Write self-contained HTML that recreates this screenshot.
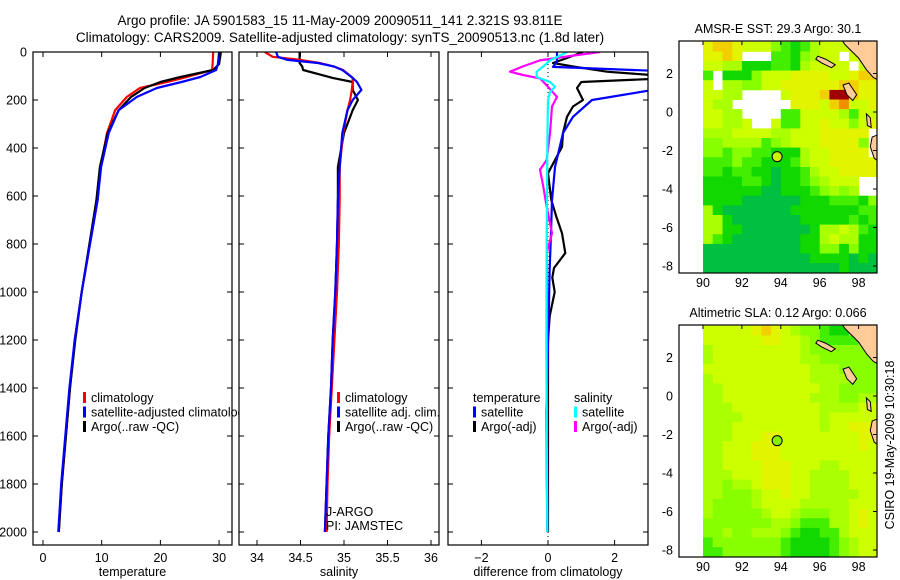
<!DOCTYPE html>
<html><head><meta charset="utf-8"><style>
html,body{margin:0;padding:0;background:#fff;}
svg{display:block;font-family:"Liberation Sans",sans-serif;}
</style></head><body>
<svg id="fig" width="900" height="580" viewBox="0 0 900 580">
<defs>
<clipPath id="c1"><rect x="33" y="52" width="199" height="493"/></clipPath>
<clipPath id="c2"><rect x="239" y="52" width="200" height="493"/></clipPath>
<clipPath id="c3"><rect x="448" y="52" width="200" height="493"/></clipPath>
<clipPath id="m1"><rect x="679" y="41" width="198" height="232"/></clipPath>
<clipPath id="m2"><rect x="679" y="325" width="198" height="232"/></clipPath>
</defs>
<text x="340" y="25" font-size="13.5" text-anchor="middle">Argo profile: JA 5901583_15 11-May-2009 20090511_141 2.321S 93.811E</text>
<text x="340" y="42" font-size="13.5" text-anchor="middle">Climatology: CARS2009. Satellite-adjusted climatology: synTS_20090513.nc (1.8d later)</text>
<g id="g"></g>
</svg>
<script>
// ---- profile data ----
const depthT=[0,50,75,104,125,150,187,242,338,479,617,800,1000,1200,1400,1600,1800,2000];
const tClim=[29.0,28.9,28.8,24.5,21.1,16.5,14.3,12.3,10.9,9.8,9.3,8.0,6.6,5.4,4.6,3.9,3.2,2.7];
const tSat=[30.0,29.8,29.5,26.8,23.6,19.4,16.0,12.9,11.2,9.9,9.3,8.0,6.6,5.4,4.5,3.8,3.1,2.6];
const tArgo=[30.3,30.0,29.0,23.4,20.0,17.3,15.0,12.9,11.0,9.7,9.1,7.9,6.6,5.5,4.6,3.9,3.2,2.7];
const depthS=[0,20,33,46,60,75,108,125,158,200,242,338,479,617,800,1000,1200,1400,1600,1800,2000];
const sClim=[34.09,34.18,34.5,34.72,34.88,34.99,35.10,35.10,35.09,35.07,35.04,34.99,34.95,34.95,34.94,34.92,34.89,34.86,34.83,34.81,34.80];
const sSat=[34.22,34.24,34.35,34.70,34.88,34.98,35.10,35.15,35.20,35.10,35.04,34.98,34.95,34.93,34.92,34.90,34.87,34.85,34.82,34.80,34.78];
const sArgo=[34.49,34.49,34.49,34.49,34.52,34.53,34.87,35.10,35.10,35.16,35.10,35.00,34.93,34.93,34.92,34.90,34.87,34.85,34.82,34.80,34.78];
const depthDTSat=[0,40,62,80,104,150,200,270,338,479,617,755,900,1100,1500,2000];
const dTSat=[0.27,0.27,0.15,3.5,4.0,3.5,1.32,0.75,0.45,0.21,0.12,0.09,0.05,0.02,-0.05,-0.02];
const depthDTArgo=[0,25,46,60,82,100,110,125,150,200,227,270,338,395,450,505,617,686,755,838,900,940,1000,1100,1200,1500,2000];
const dTArgo=[1.05,0.57,0.15,0.75,1.77,3.5,3.5,1.0,0.87,1.05,0.75,0.57,0.45,0.42,0.21,0.0,0.1,0.25,0.42,0.52,0.18,0.13,0.2,0.05,0.0,0.0,0.0];
const depthDSArgo=[0,15,35,60,82,96,110,145,187,227,338,450,490,561,645,755,838,1000,1500,2000];
const dSArgo=[1.56,0.75,-0.24,-0.75,-1.14,-0.75,-0.24,0,0.27,0.12,0.06,-0.04,-0.24,-0.14,-0.04,0.12,-0.04,-0.03,-0.03,-0.02];
const depthDSSat=[0,15,35,60,82,104,125,145,167,200,400,800,1200,1600,2000];
const dSSat=[0.57,0.36,0.06,-0.14,-0.34,-0.34,0.06,0.21,0.06,0,-0.02,-0.04,-0.05,-0.04,-0.02];
const depthTicks=[0,200,400,600,800,1000,1200,1400,1600,1800,2000];
const tTicks=[0,10,20,30];
const sTicks=[34,34.5,35,35.5,36];
const dTicks=[-2,0,2];
const lonTicks=[90,92,94,96,98];
const latTicks=[2,0,-2,-4,-6,-8];
// ---- map data (0.5 deg cells, rows from 3.65N southward, cols from 90E) ----
const sstGrid=[
"677655532124555LLL","6676xxx2213455x5LL","554411122145555x5L","2x1113555666655677",
"5x4433556666667766","5544xxxx5666799766","544xxxxxx666578556","5544xxxx2255554255",
"55445xx52255655356","44455554455566666x","33444423455566663x","33233221114556666x",
"222322111245566666","221221101124556666","1111221011234555xx","1111110011123434xx",
"111100000011122213","410000000111111122","441000000011111212","441100000001445421",
"421000000011454411","000000000011331311","000000000001111010","000000000000001000"];
const slaGrid=[
"555556765433211LLL","5555556655432222LL","45555555554333333L","455555555544333333",
"555555555554443333","455555555554444333","445555555555443333","445555555554443344",
"444555555555444455","444455555555455555","444555555555455666","444555665555555566",
"445556665555555565","445556665555555555","445555666555445555","444555666554444555",
"443445666554444555","443334556554444455","433334555544444555","433333455433344565",
"333333344322244565","334334443211224555","233333332111123455","223333332111123455"];
const palette=["#00c040","#10d800","#44ee00","#88ff00","#aaff00","#ccff00","#e2f400","#f2d000","#f09000","#a00000"];
const argoLon=93.811, argoLat=-2.321;

const NS="http://www.w3.org/2000/svg";
const G=document.getElementById('g');
function el(tag,attrs,parent,txt){const e=document.createElementNS(NS,tag);for(const k in attrs)e.setAttribute(k,attrs[k]);if(txt!==undefined)e.textContent=txt;(parent||G).appendChild(e);return e;}
const yD=d=>52+0.24*d;

function panel(x0,x1,xs,xticks,fmt,name,title,clip){
  const p=el('g',{});
  
  
  el('rect',{x:x0,y:52,width:x1-x0,height:493,fill:'#fff'},p);
  const lines=el('g',{'clip-path':'url(#'+clip+')'},p);
  el('rect',{x:x0,y:52,width:x1-x0,height:493,fill:'none',stroke:'#000','stroke-width':1.2},p);
  depthTicks.forEach(d=>{const y=yD(d);
    el('line',{x1:x0,x2:x0+5,y1:y,y2:y,stroke:'#000'},p);
    el('line',{x1:x1-5,x2:x1,y1:y,y2:y,stroke:'#000'},p);});
  xticks.forEach(v=>{const x=xs(v);
    el('line',{x1:x,x2:x,y1:52,y2:57,stroke:'#000'},p);
    el('line',{x1:x,x2:x,y1:540,y2:545,stroke:'#000'},p);
    const t=el('text',{x:x,y:562,'font-size':12.5,'text-anchor':'middle'},p,fmt(v));
    
    });
  const tt=el('text',{x:(x0+x1)/2,y:576,'font-size':12.5,'text-anchor':'middle'},p,title);
  
  
  return lines;
}
function line(parent,xs,depths,vals,color,name,w){
  const pts=depths.map((d,i)=>xs(vals[i]).toFixed(1)+','+yD(d).toFixed(1)).join(' ');
  const l=el('polyline',{points:pts,fill:'none',stroke:color,'stroke-width':w||2.2,'stroke-linejoin':'round'},parent);
  
  
}
function legend(items,x,y0){
  items.forEach((it,i)=>{const y=y0+i*14.5;
    if(it.c){const b=el('rect',{x:x,y:y-10,width:3,height:11,fill:it.c});
      
      }
    const t=el('text',{x:x+(it.c?8:0),y:y,'font-size':12.5},G,it.t);
    
    });
}
// panel 1
const xT=t=>43+5.87*t;
const L1=panel(33,232,xT,tTicks,v=>String(v),'temperature-panel','temperature','c1');
depthTicks.forEach(d=>{const t=el('text',{x:27,y:yD(d)+4.5,'font-size':12.5,'text-anchor':'end'},G,String(d));
  
  });
line(L1,xT,depthT,tClim,'#f00','temp-climatology-line');
line(L1,xT,depthT,tArgo,'#000','temp-argo-line');
line(L1,xT,depthT,tSat,'#00f','temp-satellite-line');
legend([{c:'#f00',t:'climatology'},{c:'#00f',t:'satellite-adjusted climatology'},{c:'#000',t:'Argo(..raw -QC)'}],83,402);
// panel 2
const xS=s=>257+87*(s-34);
const L2=panel(239,439,xS,sTicks,v=>String(v),'salinity-panel','salinity','c2');
line(L2,xS,depthS,sArgo,'#000','sal-argo-line');
line(L2,xS,depthS,sClim,'#f00','sal-climatology-line');
line(L2,xS,depthS,sSat,'#00f','sal-satellite-line');
legend([{c:'#f00',t:'climatology'},{c:'#00f',t:'satellite adj. clim.'},{c:'#000',t:'Argo(..raw -QC)'}],337,402);
el('text',{x:326,y:516,'font-size':12.5,},G,'J-ARGO');
el('text',{x:326,y:530,'font-size':12.5,},G,'PI: JAMSTEC');
// panel 3
const xDf=v=>548+33.3*v;
const L3=panel(448,648,xDf,dTicks,v=>v<0?'\u2212'+(-v):String(v),'difference-panel','difference from climatology','c3');
el('line',{x1:xDf(0),x2:xDf(0),y1:52,y2:545,stroke:'#000','stroke-dasharray':'1,3',},L3);
line(L3,xDf,depthDTArgo,dTArgo,'#000','diff-temp-argo-line');
line(L3,xDf,depthDTSat,dTSat,'#00f','diff-temp-satellite-line');
line(L3,xDf,depthDSArgo,dSArgo,'#f0f','diff-sal-argo-line');
line(L3,xDf,depthDSSat,dSSat,'#0ff','diff-sal-satellite-line');
legend([{t:'temperature'},{c:'#00f',t:'satellite'},{c:'#000',t:'Argo(-adj)'}],473,402);
legend([{t:'salinity'},{c:'#0ff',t:'satellite'},{c:'#f0f',t:'Argo(-adj)'}],574,402);

// maps
const xL=lon=>703+(lon-90)*19.45;
function drawMap(grid,top,lat0y,name,clip,title,markerFill){
  const yL=lat=>lat0y-lat*19.25;
  const m=el('g',{});
  
  
  const c=el('g',{'clip-path':'url(#'+clip+')'},m);
  el('rect',{x:679,y:top,width:198,height:232,fill:'#fff'},c);
  grid.forEach((row,r)=>{for(let k=0;k<row.length;k++){const ch=row[k];
    const lat=3.65-r*0.5, lon=90+k*0.5;
    let f; if(ch==='x')continue; if(ch==='L')f='#ffcc99'; else f=palette[+ch];
    const cell=el('rect',{x:xL(lon).toFixed(1),y:yL(lat).toFixed(1),width:10.2,height:10.1,fill:f},c);
    
    }});
  const land=[[[97.1,3.8],[99.2,3.8],[99.2,1.55],[98.75,1.8],[98.4,2.2],[98.0,2.8],[97.6,3.2],[97.3,3.5]],
    [[99.2,-1.1],[98.7,-1.3],[98.6,-1.8],[98.8,-2.4],[99.2,-2.7]],
    [[95.9,2.9],[96.3,2.75],[96.8,2.45],[96.6,2.3],[96.1,2.55],[95.8,2.75]],
    [[97.2,1.4],[97.5,1.5],[97.9,0.9],[97.7,0.6],[97.4,0.9]],
    [[98.4,-0.1],[98.6,-0.3],[98.65,-0.8],[98.45,-0.7]]];
  land.forEach(poly=>{const l=el('polygon',{points:poly.map(p=>xL(p[0]).toFixed(1)+','+yL(p[1]).toFixed(1)).join(' '),fill:'#ffcc99',stroke:'#000','stroke-width':1},c);
    
    });
  el('rect',{x:679,y:top,width:198,height:232,fill:'none',stroke:'#000','stroke-width':1.2},m);
  lonTicks.forEach(v=>{const x=xL(v);
    el('line',{x1:x,x2:x,y1:top,y2:top+4,stroke:'#000'},m);
    const t=el('text',{x:x,y:top+246,'font-size':12.5,'text-anchor':'middle'},m,String(v));
    
    });
  latTicks.forEach(v=>{const y=yL(v);
    el('line',{x1:873,x2:877,y1:y,y2:y,stroke:'#000'},m);
    const t=el('text',{x:673,y:y+4.5,'font-size':12.5,'text-anchor':'end'},m,v<0?'-'+(-v):String(v));
    
    });
  const mk=el('circle',{cx:xL(argoLon),cy:yL(argoLat),r:5,fill:markerFill,stroke:'#000','stroke-width':1},m);
  
  
  const tt=el('text',{x:778,y:top-8,'font-size':12.5,'text-anchor':'middle'},m,title);
  
  
}
drawMap(sstGrid,41,112,'sst-map','m1','AMSR-E SST: 29.3  Argo: 30.1','#ccf000');
drawMap(slaGrid,325,396,'sla-map','m2','Altimetric SLA: 0.12  Argo: 0.066','#88ee00');
const cs=el('text',{x:0,y:0,'font-size':12.5,'text-anchor':'middle',transform:'translate(894,445) rotate(-90)'},G,'CSIRO 19-May-2009 10:30:18');


</script>
</body></html>
